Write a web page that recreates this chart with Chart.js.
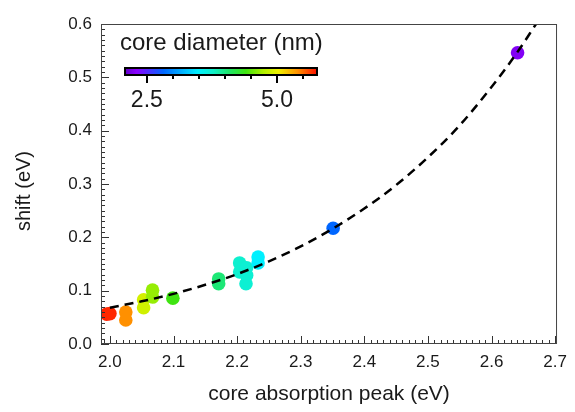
<!DOCTYPE html>
<html><head><meta charset="utf-8">
<script src="https://cdn.jsdelivr.net/npm/chart.js@4.4.1/dist/chart.umd.min.js"></script>
<style>html,body{margin:0;padding:0;background:#fff;}#wrap{width:575px;height:412px;}</style>
</head><body><div id="wrap"><canvas id="c" width="575" height="412"></canvas></div>
<script>
// ---- data ----
const absorptionPeak = [1.995, 2.000, 2.025, 2.025, 2.053, 2.053, 2.067, 2.067, 2.099, 2.171, 2.171, 2.204, 2.204, 2.215, 2.215, 2.214, 2.233, 2.233, 2.351, 2.641];
const shiftEV        = [0.056, 0.057, 0.060, 0.045, 0.083, 0.068, 0.101, 0.088, 0.086, 0.122, 0.113, 0.152, 0.135, 0.143, 0.129, 0.113, 0.163, 0.152, 0.217, 0.546];
const coreDiameter   = [5.72, 5.70, 5.40, 5.40, 4.90, 4.88, 4.66, 4.66, 4.40, 4.04, 4.04, 3.74, 3.74, 3.72, 3.72, 3.72, 3.48, 3.48, 2.82, 2.26];
const fitX = [2.00, 2.05, 2.10, 2.15, 2.20, 2.25, 2.30, 2.35, 2.40, 2.45, 2.50, 2.55, 2.60, 2.64, 2.67];
const fitY = [0.068, 0.080, 0.094, 0.111, 0.131, 0.155, 0.183, 0.216, 0.254, 0.298, 0.350, 0.410, 0.482, 0.546, 0.600];
const xTickValues = [2.0, 2.1, 2.2, 2.3, 2.4, 2.5, 2.6, 2.7];
const yTickValues = [0.0, 0.1, 0.2, 0.3, 0.4, 0.5, 0.6];
const colorbarRange = [2.08, 5.77];
const colorbarTicks = [2.5, 5.0];
const colorbarMinorTicks = [3.0, 3.5, 4.0, 4.5, 5.5];

// ---- colormap ----
const cmapStops = [
  [0.00, [96, 0, 200]], [0.06, [138, 0, 255]], [0.20, [0, 102, 255]], [0.38, [0, 240, 255]],
  [0.46, [16, 240, 200]], [0.55, [32, 228, 96]], [0.63, [64, 228, 16]], [0.72, [176, 240, 0]],
  [0.80, [240, 240, 0]], [0.90, [255, 144, 0]], [1.00, [255, 16, 0]]
];
function cmap(t){
  t = Math.max(0, Math.min(1, t));
  for (let i = 1; i < cmapStops.length; i++){
    const [t1, c1] = cmapStops[i], [t0, c0] = cmapStops[i-1];
    if (t <= t1){
      const f = (t - t0) / (t1 - t0);
      const c = c0.map((v, k) => Math.round(v + (c1[k] - v) * f));
      return `rgb(${c[0]},${c[1]},${c[2]})`;
    }
  }
  return 'rgb(255,16,0)';
}
const pointColors = coreDiameter.map(d => cmap((d - colorbarRange[0]) / (colorbarRange[1] - colorbarRange[0])));

const FONT = "'Liberation Sans', Arial, sans-serif";
const TXT = '#1a1a1a';

const decor = {
  id: 'decor',
  afterDraw(chart){
    const {ctx, chartArea: a, scales: {x, y}} = chart;
    ctx.save();
    // inward ticks
    ctx.strokeStyle = '#333'; ctx.lineWidth = 1;
    for (let i = 199; i <= 270; i++){
      const px = Math.round(x.getPixelForValue(i / 100)) + 0.5;
      const len = (i % 10 === 0) ? 8 : 4;
      ctx.beginPath(); ctx.moveTo(px, a.bottom); ctx.lineTo(px, a.bottom - len); ctx.stroke();
    }
    for (let i = 0; i <= 60; i++){
      const py = Math.round(y.getPixelForValue(i / 100)) + 0.5;
      const len = (i % 10 === 0) ? 8 : 4;
      ctx.beginPath(); ctx.moveTo(a.left, py); ctx.lineTo(a.left + len, py); ctx.stroke();
    }
    // frame
    ctx.strokeStyle = '#444';
    ctx.strokeRect(a.left + 0.5, a.top + 0.5, a.right - a.left - 1, a.bottom - a.top - 1);
    // y title
    ctx.fillStyle = TXT; ctx.font = `20px ${FONT}`;
    ctx.textAlign = 'center'; ctx.textBaseline = 'middle';
    ctx.translate(24, 191); ctx.rotate(-Math.PI / 2); ctx.fillText('shift (eV)', 0, 0);
    ctx.setTransform(1, 0, 0, 1, 0, 0);
    // colorbar
    const L = 125, R = 317, T = 68, B = 75;
    const g = ctx.createLinearGradient(L, 0, R, 0);
    cmapStops.forEach(([t, c]) => g.addColorStop(t, `rgb(${c[0]},${c[1]},${c[2]})`));
    ctx.fillStyle = g; ctx.fillRect(L, T, R - L, B - T);
    ctx.strokeStyle = '#000'; ctx.lineWidth = 2; ctx.strokeRect(L, T, R - L, B - T);
    const cx = d => L + (d - colorbarRange[0]) / (colorbarRange[1] - colorbarRange[0]) * (R - L);
    ctx.lineWidth = 2;
    colorbarTicks.forEach(d => { const px = Math.round(cx(d)); ctx.beginPath(); ctx.moveTo(px, B); ctx.lineTo(px, B + 8); ctx.stroke(); });
    colorbarMinorTicks.forEach(d => { const px = Math.round(cx(d)); ctx.beginPath(); ctx.moveTo(px, B); ctx.lineTo(px, B + 4); ctx.stroke(); });
    ctx.fillStyle = TXT; ctx.font = `23px ${FONT}`; ctx.textAlign = 'center'; ctx.textBaseline = 'middle';
    colorbarTicks.forEach(d => ctx.fillText(d.toFixed(1), cx(d), 101));
    ctx.font = `24px ${FONT}`; ctx.textAlign = 'left';
    ctx.fillText('core diameter (nm)', 120, 43);
    ctx.restore();
  }
};

new Chart(document.getElementById('c'), {
  type: 'scatter',
  data: {
    datasets: [
      {
        type: 'line', label: 'fit',
        data: fitX.map((v, i) => ({x: v, y: fitY[i]})),
        borderColor: '#000', borderWidth: 2.5, borderDash: [9, 6],
        pointRadius: 0, fill: false, cubicInterpolationMode: 'monotone'
      },
      {
        label: 'samples',
        data: absorptionPeak.map((v, i) => ({x: v, y: shiftEV[i]})),
        pointRadius: 6.8, pointHoverRadius: 6.8, pointBorderWidth: 0,
        pointBackgroundColor: pointColors, pointBorderColor: pointColors
      }
    ]
  },
  options: {
    responsive: false, animation: false,
    layout: {padding: {left: 0, right: 16, top: 24, bottom: 0}},
    plugins: {legend: {display: false}, tooltip: {enabled: false}},
    scales: {
      x: {
        type: 'linear', min: 1.986, max: 2.703,
        afterBuildTicks: s => { s.ticks = xTickValues.map(v => ({value: v})); },
        afterFit: s => { s.height = 68; },
        grid: {display: false, drawTicks: false},
        border: {display: false},
        ticks: {padding: 8, color: TXT, font: {family: FONT, size: 17}, callback: v => Number(v).toFixed(1), maxRotation: 0, autoSkip: false},
        title: {display: true, text: 'core absorption peak (eV)', color: TXT, font: {family: FONT, size: 21}, padding: {top: 0, bottom: 5}}
      },
      y: {
        type: 'linear', min: 0, max: 0.6,
        afterBuildTicks: s => { s.ticks = yTickValues.map(v => ({value: v})); },
        afterFit: s => { s.width = 101; },
        grid: {display: false, drawTicks: false},
        border: {display: false},
        ticks: {padding: 9, color: TXT, font: {family: FONT, size: 17}, callback: v => Number(v).toFixed(1), autoSkip: false}
      }
    }
  },
  plugins: [decor]
});
</script></body></html>
